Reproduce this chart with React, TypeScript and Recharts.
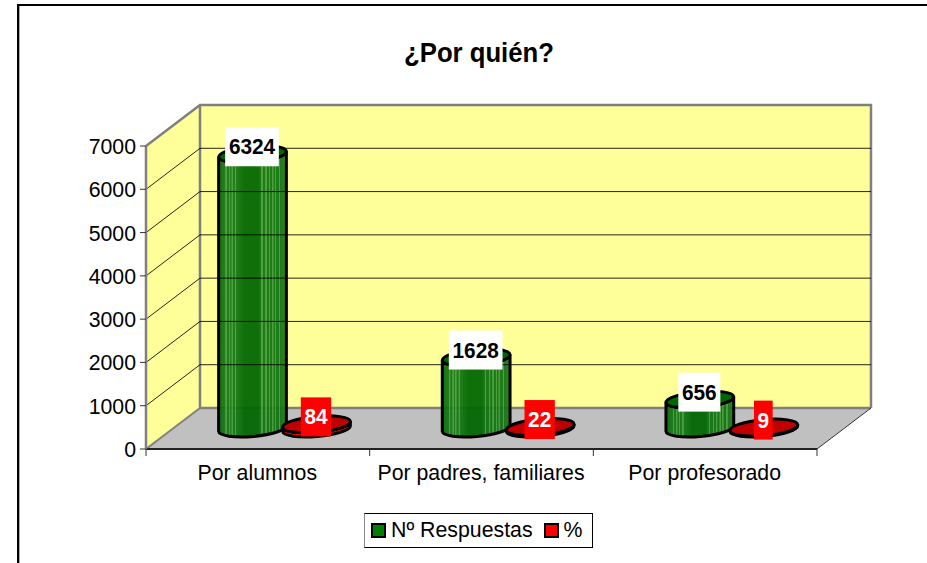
import React from 'react';
import { BarChart, Bar, XAxis, YAxis, ReferenceArea, ReferenceLine, LabelList, Legend } from 'recharts';

const categories = ['Por alumnos', 'Por padres, familiares', 'Por profesorado'];
const respuestas = [6324, 1628, 656];
const porcentaje = [84, 22, 9];
const yTicks = [0, 1000, 2000, 3000, 4000, 5000, 6000, 7000];
const gridTicks = [1000, 2000, 3000, 4000, 5000, 6000];

const data = categories.map((name, i) => ({ name, respuestas: respuestas[i], porcentaje: porcentaje[i] }));

const FONT = '"Liberation Sans", Arial, sans-serif';
const WIDTH = 927;
const HEIGHT = 563;
const MARGIN = { top: 146, right: 110, bottom: 84, left: 86 };
const Y_AXIS_W = 60;
const X_AXIS_H = 30;
const PLOT_W = WIDTH - MARGIN.left - MARGIN.right - Y_AXIS_W;
const PLOT_BOTTOM = HEIGHT - MARGIN.bottom - X_AXIS_H;

// 3d depth of the chart box
const DX = 54;
const DY = -41;
const GRAY = '#808080';
// the reference is stretched a bit vertically, its text too
const TEXT_STRETCH = 1.06;

function Txt({ x, y, anchor, size, bold, fill, children }: any) {
  return (
    <text
      transform={`translate(${x} ${y}) scale(1 ${TEXT_STRETCH})`}
      textAnchor={anchor || 'middle'}
      fontFamily={FONT}
      fontSize={size}
      fontWeight={bold ? 'bold' : 'normal'}
      fill={fill || '#000000'}
    >
      {children}
    </text>
  );
}

function Walls(props: any) {
  const { x, y, width, height } = props;
  const b = y + height;
  const r = x + width;
  return (
    <g>
      <polygon points={`${x},${y} ${x + DX},${y + DY} ${x + DX},${b + DY} ${x},${b}`} fill="#FFFF99" />
      <rect x={x + DX} y={y + DY} width={width} height={height} fill="#FFFF99" />
      <polygon points={`${x},${b} ${x + DX},${b + DY} ${r + DX},${b + DY} ${r},${b}`} fill="#C0C0C0" />
    </g>
  );
}

function WallFrame({ x, y, width, height }: any) {
  const b = y + height;
  const r = x + width;
  return (
    <g fill="none">
      <polyline points={`${x},${y} ${x + DX},${y + DY} ${r + DX},${y + DY} ${r + DX},${b + DY}`} stroke={GRAY} strokeWidth={2.5} />
      <polyline points={`${x + DX},${y + DY} ${x + DX},${b + DY} ${r + DX},${b + DY}`} stroke={GRAY} strokeWidth={2.5} />
      <line x1={x} y1={b} x2={x + DX} y2={b + DY} stroke={GRAY} strokeWidth={2} />
      <line x1={r} y1={b} x2={r + DX} y2={b + DY} stroke="#333333" strokeWidth={1} />
    </g>
  );
}

function GridLine(props: any) {
  const { x1, x2, y1 } = props;
  return (
    <polyline
      points={`${x1},${y1} ${x1 + DX},${y1 + DY} ${x2 + DX},${y1 + DY}`}
      fill="none"
      stroke="#000000"
      strokeWidth={1}
      strokeOpacity={0.85}
    />
  );
}

function Cylinder(props: any) {
  const { x, y, width, height, bodyFill, topFill, opacity } = props;
  const rx = width / 2 + 2;
  const ry = 8;
  const cx = x + width / 2 + DX / 2 - 0.5;
  const tilt = 5;
  const sin = Math.sin((tilt * Math.PI) / 180) * rx;
  const cos = Math.cos((tilt * Math.PI) / 180) * rx;
  const topY = y + DY / 2 - 0.5;
  const botY = y + DY / 2 + height;
  return (
    <g stroke="#000000" strokeWidth={3}>
      <path
        d={`M${cx - cos},${topY + sin} L${cx - cos},${botY + sin} A${rx},${ry} ${-tilt} 0 0 ${cx + cos},${botY - sin} L${cx + cos},${topY - sin} A${rx},${ry} ${-tilt} 0 1 ${cx - cos},${topY + sin} Z`}
        fill={bodyFill}
        fillOpacity={opacity}
      />
      <ellipse cx={cx} cy={topY} rx={rx} ry={ry} fill={topFill} transform={`rotate(${-tilt} ${cx} ${topY})`} />
    </g>
  );
}

function ValueLabel(props: any) {
  const { x, y, width, value, boxFill, textFill } = props;
  const text = String(value);
  const w = text.length * 11.67 + 7;
  const h = 39;
  const cx = x + width / 2 + DX / 2 - 1;
  const cy = y + DY / 2 - 8;
  return (
    <g>
      <rect x={cx - w / 2} y={cy - h / 2} width={w} height={h} fill={boxFill} />
      <Txt x={cx} y={cy + 7.5} size={20.8} bold fill={textFill}>
        {text}
      </Txt>
    </g>
  );
}

function XTick({ x, payload, index }: any) {
  const band = PLOT_W / categories.length;
  const left = x - band / 2;
  return (
    <g>
      <line x1={left} y1={PLOT_BOTTOM} x2={left} y2={PLOT_BOTTOM + 7} stroke="#333333" strokeWidth={1} />
      {index === categories.length - 1 && (
        <line x1={left + band} y1={PLOT_BOTTOM} x2={left + band} y2={PLOT_BOTTOM + 7} stroke="#333333" strokeWidth={1} />
      )}
      <Txt x={x - 0.5} y={PLOT_BOTTOM + 31} size={21.3}>
        {payload.value}
      </Txt>
    </g>
  );
}

function YTick({ x, y, payload }: any) {
  return (
    <Txt x={x} y={y + 8} anchor="end" size={21.3}>
      {payload.value}
    </Txt>
  );
}

function LegendBox({ payload }: any) {
  return (
    <div
      style={{
        boxSizing: 'border-box',
        width: 229,
        height: 35,
        border: '1px solid #000',
        borderLeftColor: '#888',
        background: '#fff',
        display: 'flex',
        alignItems: 'center',
        paddingLeft: 6,
        fontFamily: FONT,
        fontSize: 21.3,
        color: '#000',
        whiteSpace: 'nowrap',
      }}
    >
      {(payload || []).map((p: any) => (
        <span key={p.value} style={{ display: 'flex', alignItems: 'center', marginRight: 11 }}>
          <span style={{ boxSizing: 'border-box', width: 15, height: 15, background: p.color, border: '2px solid #000', marginRight: 5 }} />
          <span style={{ display: 'inline-block', transform: `scaleY(${TEXT_STRETCH})` }}>{p.value}</span>
        </span>
      ))}
    </div>
  );
}

// light vertical stripes of the excel cylinder fill
const stripes = [0.11, 0.16, 0.2, 0.25, 0.64, 0.7, 0.75, 0.8, 0.84, 0.9];

function GreenFill() {
  const stops: React.ReactNode[] = [];
  stripes.forEach((s, i) => {
    const base = s < 0.5 ? '#147714' : '#0f7310';
    stops.push(<stop key={`a${i}`} offset={s - 0.012} stopColor={base} />);
    stops.push(<stop key={`b${i}`} offset={s - 0.008} stopColor="#459a38" />);
    stops.push(<stop key={`c${i}`} offset={s + 0.008} stopColor="#459a38" />);
    stops.push(<stop key={`d${i}`} offset={s + 0.012} stopColor={base} />);
  });
  return (
    <linearGradient id="greenCyl" x1="0" y1="0" x2="1" y2="0">
      <stop offset="0" stopColor="#0a6a0a" />
      {stops.slice(0, 16)}
      <stop offset="0.38" stopColor="#006600" />
      <stop offset="0.58" stopColor="#006600" />
      {stops.slice(16)}
      <stop offset="1" stopColor="#2a7a20" />
    </linearGradient>
  );
}

export default function App() {
  return (
    <div style={{ position: 'fixed', left: 0, top: 0, width: WIDTH, height: HEIGHT, background: '#fff', overflow: 'hidden' }}>
      <div style={{ position: 'absolute', left: 17, top: 4, right: 0, bottom: 0, borderTop: '2px solid #000', borderLeft: '2px solid #000', boxShadow: 'inset 1px 0 0 #aaa' }} />
      <div style={{ position: 'absolute', left: 0, top: 0 }}>
        <BarChart width={WIDTH} height={HEIGHT} data={data} margin={MARGIN} barSize={64} barGap={0}>
          <defs>
            <GreenFill />
          </defs>
          <ReferenceArea y1={0} y2={7000} shape={Walls} />
          {gridTicks.map((t) => (
            <ReferenceLine key={t} y={t} shape={GridLine} />
          ))}
          <ReferenceArea y1={0} y2={7000} shape={WallFrame} />
          <XAxis
            dataKey="name"
            height={X_AXIS_H}
            axisLine={{ stroke: '#222222', strokeWidth: 2 }}
            tickLine={false}
            tick={XTick}
            interval={0}
          />
          <YAxis
            width={Y_AXIS_W}
            domain={[0, 7000]}
            ticks={yTicks}
            axisLine={{ stroke: GRAY, strokeWidth: 2.5 }}
            tickLine={{ stroke: '#333333' }}
            tickSize={6}
            tickMargin={4}
            tick={YTick}
          />
          <Bar
            dataKey="respuestas"
            name="Nº Respuestas"
            fill="#008000"
            isAnimationActive={false}
            shape={(p: any) => <Cylinder {...p} bodyFill="url(#greenCyl)" topFill="#006600" opacity={0.94} />}
          >
            <LabelList dataKey="respuestas" content={(p: any) => <ValueLabel {...p} boxFill="#FFFFFF" textFill="#000000" />} />
          </Bar>
          <Bar
            dataKey="porcentaje"
            name="%"
            fill="#FF0000"
            isAnimationActive={false}
            shape={(p: any) => <Cylinder {...p} bodyFill="#FF0000" topFill="#C00000" opacity={1} />}
          >
            <LabelList dataKey="porcentaje" content={(p: any) => <ValueLabel {...p} boxFill="#FF0000" textFill="#FFFFFF" />} />
          </Bar>
          <Legend
            layout="horizontal"
            verticalAlign="middle"
            align="center"
            itemSorter={null}
            content={LegendBox}
            wrapperStyle={{ left: 364, top: 513, width: 229, height: 35 }}
          />
          <Txt x={479} y={62} size={25.7} bold>
            ¿Por quién?
          </Txt>
        </BarChart>
      </div>
    </div>
  );
}
